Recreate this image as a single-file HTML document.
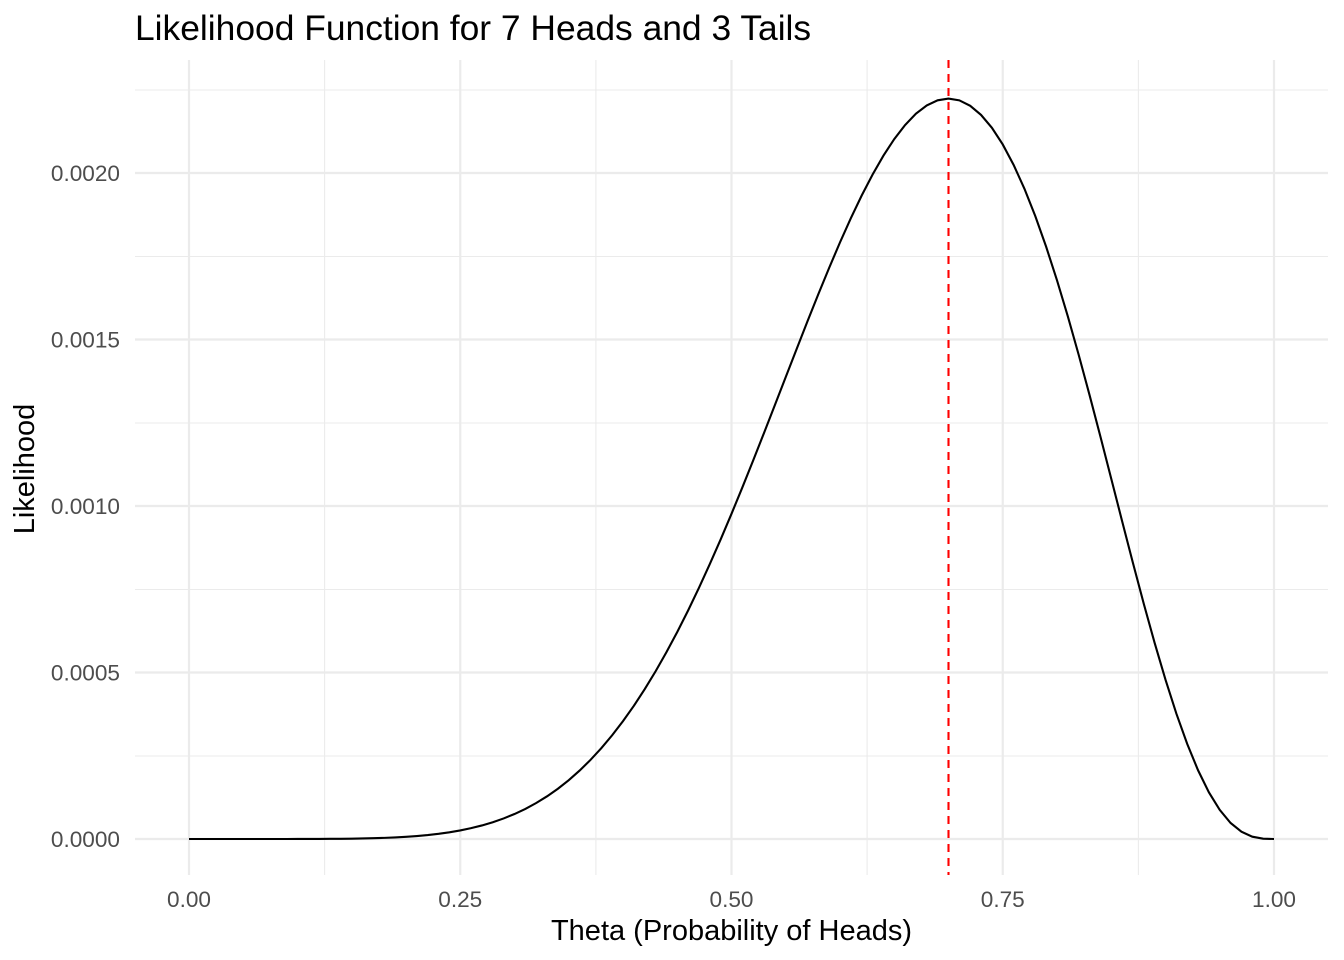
<!DOCTYPE html>
<html><head><meta charset="utf-8"><style>
html,body{margin:0;padding:0;background:#fff}
svg{display:block;font-family:"Liberation Sans",Arial,sans-serif}
</style></head><body>
<svg id="s" width="1344" height="960" viewBox="0 0 1344 960" xmlns="http://www.w3.org/2000/svg">
<g stroke="#ebebeb" stroke-width="1.1">
<line x1="135" x2="1328" y1="756" y2="756"/><line x1="135" x2="1328" y1="589.5" y2="589.5"/>
<line x1="135" x2="1328" y1="423" y2="423"/><line x1="135" x2="1328" y1="256.5" y2="256.5"/>
<line x1="135" x2="1328" y1="90" y2="90"/>
<line y1="60" y2="875" x1="324.6" x2="324.6"/><line y1="60" y2="875" x1="595.9" x2="595.9"/>
<line y1="60" y2="875" x1="867.1" x2="867.1"/><line y1="60" y2="875" x1="1138.4" x2="1138.4"/>
</g>
<g stroke="#ebebeb" stroke-width="2.2">
<line x1="135" x2="1328" y1="839" y2="839"/><line x1="135" x2="1328" y1="672.5" y2="672.5"/>
<line x1="135" x2="1328" y1="506" y2="506"/><line x1="135" x2="1328" y1="339.5" y2="339.5"/>
<line x1="135" x2="1328" y1="173" y2="173"/>
<line y1="60" y2="875" x1="189" x2="189"/><line y1="60" y2="875" x1="460.25" x2="460.25"/>
<line y1="60" y2="875" x1="731.5" x2="731.5"/><line y1="60" y2="875" x1="1002.75" x2="1002.75"/>
<line y1="60" y2="875" x1="1274" x2="1274"/>
</g>
<path id="curve" fill="none" stroke="#000" stroke-width="2.1"/>
<line x1="948.5" x2="948.5" y1="60" y2="875" stroke="#ff0000" stroke-width="2.1" stroke-dasharray="8,6"/>
<g fill="#4d4d4d" font-size="22.6" text-anchor="end">
<text x="120" y="847">0.0000</text><text x="120" y="680.5">0.0005</text>
<text x="120" y="514">0.0010</text><text x="120" y="347.5">0.0015</text>
<text x="120" y="181">0.0020</text>
</g>
<g fill="#4d4d4d" font-size="22.6" text-anchor="middle">
<text x="189" y="907">0.00</text><text x="460.25" y="907">0.25</text>
<text x="731.5" y="907">0.50</text><text x="1002.75" y="907">0.75</text>
<text x="1274" y="907">1.00</text>
</g>
<text x="731.5" y="940" font-size="29" text-anchor="middle" fill="#000">Theta (Probability of Heads)</text>
<text transform="translate(34,469) rotate(-90)" font-size="29" text-anchor="middle" fill="#000">Likelihood</text>
<text x="135" y="40" font-size="35.4" fill="#000">Likelihood Function for 7 Heads and 3 Tails</text>
</svg>
<script>
var d="";for(var i=0;i<=100;i++){var t=i/100,L=Math.pow(t,7)*Math.pow(1-t,3);
var x=189+t*1085,y=839-L/0.0005*166.5;d+=(i?"L":"M")+x.toFixed(2)+","+y.toFixed(2);}
document.getElementById("curve").setAttribute("d",d);
</script>
</body></html>
